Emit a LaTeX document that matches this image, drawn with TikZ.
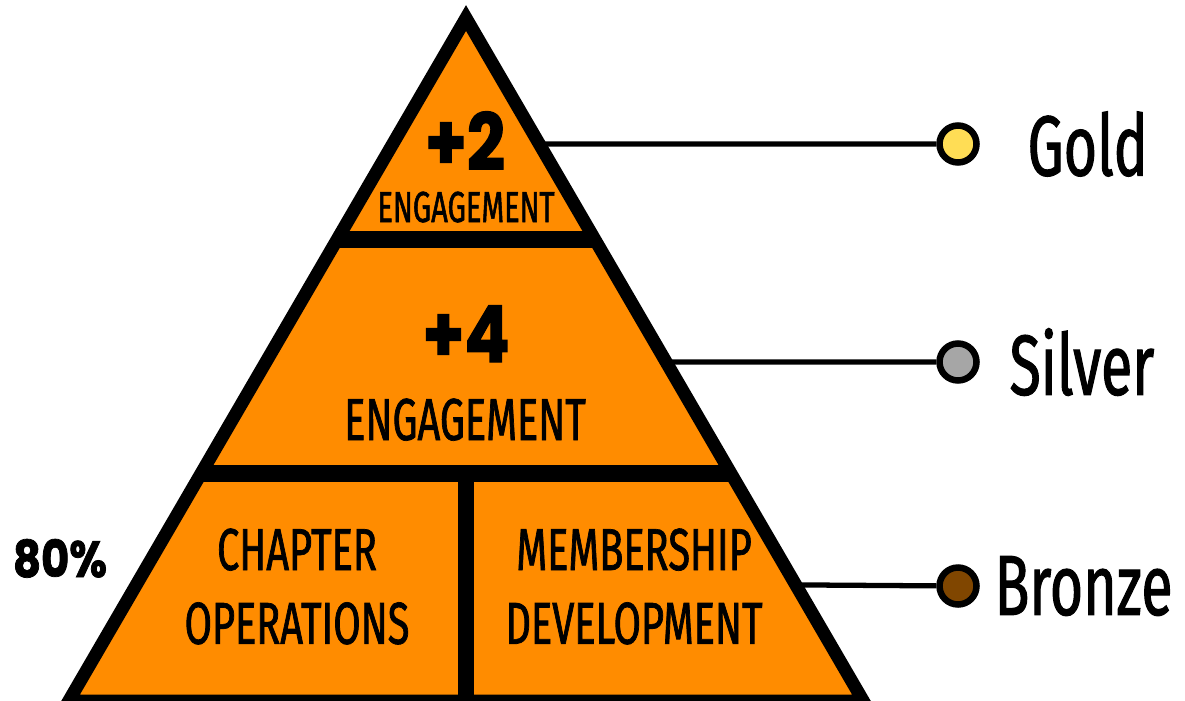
\documentclass[tikz,border=0pt]{standalone}
\usepackage{fontspec}
\setmainfont{Fira Sans}[FakeStretch=0.67, FakeBold=1.2]
\newfontfamily\heavyfont{Poppins}[FakeStretch=0.85, FakeBold=1.5]
\usepackage{tikz}
\usetikzlibrary{positioning}
\usetikzlibrary{calc}

\definecolor{pyramidOrange}{RGB}{255,140,0}
\definecolor{goldFill}{RGB}{255,221,85}
\definecolor{silverFill}{RGB}{166,166,166}
\definecolor{bronzeFill}{RGB}{128,70,0}

\begin{document}
\begin{tikzpicture}[
	x=0.02cm, y=-0.02cm,
	tierText/.style={inner sep=0, font=\fontsize{33.7}{42}\selectfont},
	bigNum/.style={inner sep=0, font=\heavyfont\bfseries\fontsize{44.7}{50}\selectfont},
	medal/.style={circle, draw, line width=3.7pt, minimum size=0.74cm, inner sep=0},
	medalText/.style={inner sep=0, anchor=west, font=\fontsize{48.6}{55}\selectfont}
]
\useasboundingbox (0,0) rectangle (1185,700);

\coordinate (apex) at (466,18);
\coordinate (baseLeft) at (68.7,701);
\coordinate (baseRight) at (863.3,701);

% ---

\node[medal, fill=goldFill] (goldDot) at (958,144) {};
\node[medal, fill=silverFill] (silverDot) at (958,362) {};
\node[medal, fill=bronzeFill] (bronzeDot) at (958,586) {};

\node[medalText, right=0.95cm of goldDot] (gold) {Gold};
\node[medalText, right=0.59cm of silverDot] (silver) {Silver};
\node[medalText, right=0.29cm of bronzeDot] (bronze) {Bronze};

\coordinate (goldEdge) at ($(apex)!0.1845!(baseRight)$);
\coordinate (silverEdge) at ($(apex)!0.5037!(baseRight)$);
\coordinate (bronzeEdge) at ($(apex)!0.8300!(baseRight)$);

\draw[line width=3pt] (goldEdge) -- (goldDot);
\draw[line width=3pt] (silverEdge) -- (silverDot);
\draw[line width=3pt] (bronzeEdge) -- (bronzeDot);

% ---

\draw[fill=pyramidOrange, line width=7.37pt, line join=miter]
	(apex) -- (baseRight) -- (baseLeft) -- cycle;

\draw[line width=9.64pt] ($(apex)!0.3243!(baseLeft)$) -- ($(apex)!0.3243!(baseRight)$);
\draw[line width=9.64pt] ($(apex)!0.6669!(baseLeft)$) -- ($(apex)!0.6669!(baseRight)$);
\draw[line width=9.64pt] (466,473.5) -- (466,701);

% ---

\node[bigNum, anchor=base] (topNum) at (465,170) {+2};
\node[tierText, anchor=base, font=\fontsize{24.7}{28}\selectfont] (topLabel) at (466,222) {ENGAGEMENT};

\node[bigNum, anchor=base] (midNum) at (466,362) {+4};
\node[tierText, anchor=base] (midLabel) at (465,440) {ENGAGEMENT};

\node[tierText, align=center] (chapter) at (297,586.5) {CHAPTER\\OPERATIONS};
\node[tierText, align=center] (membership) at (634,586.5) {MEMBERSHIP\\DEVELOPMENT};

\node[inner sep=0, anchor=base, font=\heavyfont\bfseries\fontsize{29}{33}\selectfont] (share) at (60,577) {80\%};

\end{tikzpicture}
\end{document}
